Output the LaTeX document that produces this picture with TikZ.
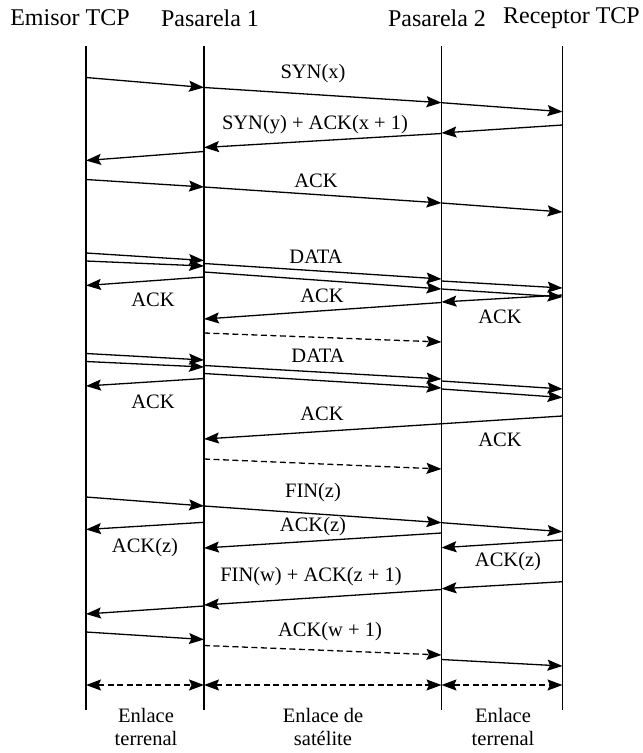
\documentclass[tikz,border=0pt]{standalone}
\usepackage{fontspec}
\setmainfont{Liberation Serif}
\usetikzlibrary{arrows.meta}
\newcommand\cpt[3]{\coordinate (#1) at (#2,#3);}
\begin{document}
\begin{tikzpicture}[x=1pt,y=-1pt,
  life/.style={line width=1.4pt},
  tip/.tip={Stealth[length=15pt,width=11pt,inset=2.5pt]},
  msg/.style={line width=1.3pt,-tip},
  dmsg/.style={msg,dash pattern=on 6pt off 3.5pt},
  spanarr/.style={line width=1.3pt,dash pattern=on 6pt off 3.5pt,tip-tip},
  lbl/.style={font=\fontsize{20.5}{23}\selectfont,inner sep=0pt},
  hdr/.style={font=\fontsize{24}{27}\selectfont,inner sep=0pt}]
\useasboundingbox (0,0) rectangle (643,753);
\def\xE{86}\def\xA{204}\def\xB{441.5}\def\xR{562.5}
% headers
\node[hdr] (hE) at (70,18) {Emisor TCP};
\node[hdr] (hA) at (210,18) {Pasarela 1};
\node[hdr] (hB) at (437,18) {Pasarela 2};
\node[hdr,anchor=east] (hR) at (640,18) {Receptor TCP};
% lifelines
\cpt{Et}{\xE}{46}\cpt{Eb}{\xE}{710}
\cpt{At}{\xA}{46}\cpt{Ab}{\xA}{710}
\cpt{Bt}{\xB}{46}\cpt{Bb}{\xB}{710}
\cpt{Rt}{\xR}{46}\cpt{Rb}{\xR}{710}
\draw[life] (Et) -- (Eb);
\draw[life] (At) -- (Ab);
\draw[life] (Bt) -- (Bb);
\draw[life] (Rt) -- (Rb);
% SYN(x)
\cpt{s1}{\xE}{77.5}\cpt{s2}{\xA}{87.5}\cpt{s3}{\xB}{102.7}\cpt{s4}{\xR}{111.7}
\draw[msg] (s1) -- (s2);
\draw[msg] (s2) -- (s3);
\draw[msg] (s3) -- (s4);
\node[lbl] (lsyn) at (313,74) {SYN(x)};
% SYN(y)+ACK
\cpt{r1}{\xR}{125}\cpt{r2}{\xB}{133}\cpt{r3}{\xB}{133.5}\cpt{r4}{\xA}{147.5}\cpt{r5}{\xA}{151.5}\cpt{r6}{\xE}{160.5}
\draw[msg] (r1) -- (r2);
\draw[msg] (r3) -- (r4);
\draw[msg] (r5) -- (r6);
\node[lbl] (lsynack) at (315,125) {SYN(y) + ACK(x + 1)};
% ACK
\cpt{k1}{\xE}{179.5}\cpt{k2}{\xA}{187}\cpt{k3}{\xB}{203}\cpt{k4}{\xR}{212}
\draw[msg] (k1) -- (k2);
\draw[msg] (k2) -- (k3);
\draw[msg] (k3) -- (k4);
\node[lbl] (lack1) at (316,181) {ACK};
% DATA 1
\cpt{da1}{\xE}{253}\cpt{da2}{\xA}{260.5}
\cpt{db1}{\xE}{261}\cpt{db2}{\xA}{266}
\cpt{dc1}{\xA}{263.5}\cpt{dc2}{\xB}{279}
\cpt{dd1}{\xA}{272}\cpt{dd2}{\xB}{289}
\cpt{de1}{\xB}{281}\cpt{de2}{\xR}{288}
\cpt{df1}{\xB}{289}\cpt{df2}{\xR}{297}
\draw[msg] (da1) -- (da2);
\draw[msg] (db1) -- (db2);
\draw[msg] (dc1) -- (dc2);
\draw[msg] (dd1) -- (dd2);
\draw[msg] (de1) -- (de2);
\draw[msg] (df1) -- (df2);
\node[lbl] (ldata1) at (316,257) {DATA};
\cpt{a11}{\xA}{277}\cpt{a12}{\xE}{285.5}
\draw[msg] (a11) -- (a12);
\node[lbl] (lack2) at (153,300) {ACK};
\cpt{a21}{\xR}{295}\cpt{a22}{\xB}{302}
\draw[msg] (a21) -- (a22);
\node[lbl] (lack3) at (500,317) {ACK};
\cpt{a31}{\xB}{302.5}\cpt{a32}{\xA}{319}
\draw[msg] (a31) -- (a32);
\node[lbl] (lack4) at (322,296) {ACK};
\cpt{q11}{\xA}{333}\cpt{q12}{\xB}{342}
\draw[dmsg] (q11) -- (q12);
% DATA 2
\cpt{ea1}{\xE}{353.5}\cpt{ea2}{\xA}{360}
\cpt{eb1}{\xE}{361.5}\cpt{eb2}{\xA}{367}
\cpt{ec1}{\xA}{365.5}\cpt{ec2}{\xB}{379}
\cpt{ed1}{\xA}{373.5}\cpt{ed2}{\xB}{388}
\cpt{ee1}{\xB}{381}\cpt{ee2}{\xR}{389}
\cpt{ef1}{\xB}{389}\cpt{ef2}{\xR}{397.5}
\draw[msg] (ea1) -- (ea2);
\draw[msg] (eb1) -- (eb2);
\draw[msg] (ec1) -- (ec2);
\draw[msg] (ed1) -- (ed2);
\draw[msg] (ee1) -- (ee2);
\draw[msg] (ef1) -- (ef2);
\node[lbl] (ldata2) at (318,356) {DATA};
\cpt{a41}{\xA}{378.5}\cpt{a42}{\xE}{386}
\draw[msg] (a41) -- (a42);
\node[lbl] (lack5) at (153,402) {ACK};
\cpt{a51}{\xR}{416}\cpt{a52}{\xA}{439}
\draw[msg] (a51) -- (a52);
\node[lbl] (lack6) at (322,414) {ACK};
\node[lbl] (lack7) at (500,440) {ACK};
\cpt{q21}{\xA}{459}\cpt{q22}{\xB}{469}
\draw[dmsg] (q21) -- (q22);
% FIN(z)
\cpt{f1}{\xE}{497}\cpt{f2}{\xA}{506}\cpt{f3}{\xB}{522.7}\cpt{f4}{\xR}{531.7}
\draw[msg] (f1) -- (f2);
\draw[msg] (f2) -- (f3);
\draw[msg] (f3) -- (f4);
\node[lbl] (lfinz) at (313,493) {FIN(z)};
\cpt{g1}{\xA}{522.3}\cpt{g2}{\xE}{529.5}
\draw[msg] (g1) -- (g2);
\node[lbl] (lackz1) at (145,548) {ACK(z)};
\cpt{h1}{\xB}{533}\cpt{h2}{\xA}{548}
\draw[msg] (h1) -- (h2);
\node[lbl] (lackz2) at (313,527) {ACK(z)};
\cpt{i1}{\xR}{540}\cpt{i2}{\xB}{547.7}
\draw[msg] (i1) -- (i2);
\node[lbl] (lackz3) at (508,562) {ACK(z)};
% FIN(w)
\cpt{w1}{\xR}{581.7}\cpt{w2}{\xB}{588.7}\cpt{w3}{\xB}{589.5}\cpt{w4}{\xA}{605}\cpt{w5}{\xA}{606}\cpt{w6}{\xE}{614}
\draw[msg] (w1) -- (w2);
\draw[msg] (w3) -- (w4);
\draw[msg] (w5) -- (w6);
\node[lbl] (lfinw) at (311,577) {FIN(w) + ACK(z + 1)};
% ACK(w+1)
\cpt{v1}{\xE}{632}\cpt{v2}{\xA}{639.5}\cpt{v3}{\xA}{645.5}\cpt{v4}{\xB}{655}\cpt{v5}{\xB}{659.5}\cpt{v6}{\xR}{666}
\draw[msg] (v1) -- (v2);
\draw[dmsg] (v3) -- (v4);
\draw[msg] (v5) -- (v6);
\node[lbl] (lackw) at (330,632) {ACK(w + 1)};
% spans
\cpt{p1}{\xE}{685}\cpt{p2}{\xA}{685}\cpt{p3}{\xB}{685}\cpt{p4}{\xR}{685}
\draw[spanarr] (p1) -- (p2);
\draw[spanarr] (p2) -- (p3);
\draw[spanarr] (p3) -- (p4);
\node[lbl,align=center] (t1) at (146,727) {Enlace\\terrenal};
\node[lbl,align=center] (t2) at (323,727) {Enlace de\\satélite};
\node[lbl,align=center] (t3) at (503,727) {Enlace\\terrenal};
\end{tikzpicture}
\end{document}
